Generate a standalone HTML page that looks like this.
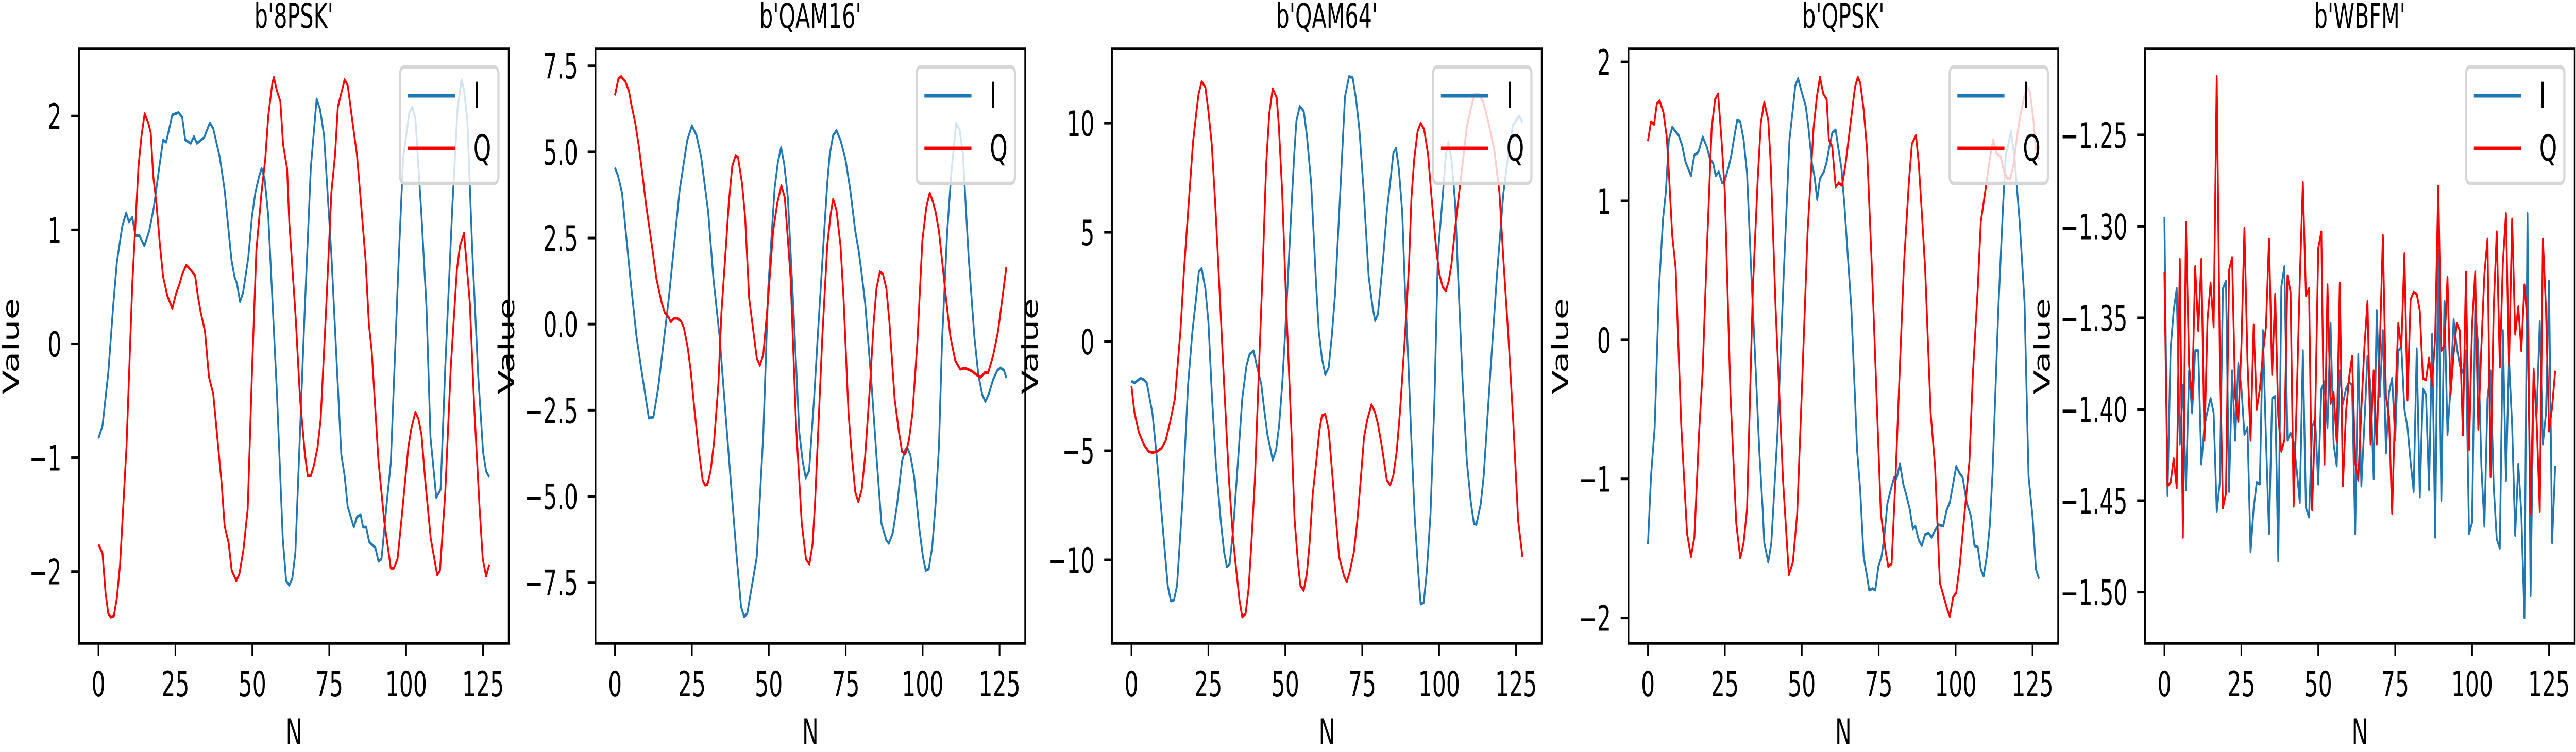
<!DOCTYPE html>
<html><head><meta charset="utf-8"><title>IQ signal samples</title>
<style>
html,body{margin:0;padding:0;background:#fff;width:100%;height:100%;overflow:hidden;}
svg{display:block;font-family:"DejaVu Sans","Liberation Sans",sans-serif;overflow:hidden;width:100vw;height:100vh;}
</style></head>
<body>
<svg id="fig" xmlns="http://www.w3.org/2000/svg" viewBox="0 0 7995 1460" preserveAspectRatio="none"></svg>
<script>
// ---------- data ----------
const xTicks = [0, 25, 50, 75, 100, 125];
const titles = ["b'8PSK'", "b'QAM16'", "b'QAM64'", "b'QPSK'", "b'WBFM'"];
const legendLabels = ["I", "Q"];

const yTicks8psk = [-2, -1, 0, 1, 2];
const yTickLabels8psk = ["\u22122", "\u22121", "0", "1", "2"];
const yTicksQam16 = [-7.5, -5, -2.5, 0, 2.5, 5, 7.5];
const yTickLabelsQam16 = ["\u22127.5", "\u22125.0", "\u22122.5", "0.0", "2.5", "5.0", "7.5"];
const yTicksQam64 = [-10, -5, 0, 5, 10];
const yTickLabelsQam64 = ["\u221210", "\u22125", "0", "5", "10"];
const yTicksQpsk = [-2, -1, 0, 1, 2];
const yTickLabelsQpsk = ["\u22122", "\u22121", "0", "1", "2"];
const yTicksWbfm = [-1.50, -1.45, -1.40, -1.35, -1.30, -1.25];
const yTickLabelsWbfm = ["\u22121.50", "\u22121.45", "\u22121.40", "\u22121.35", "\u22121.30", "\u22121.25"];

const yRange8psk = [-2.63, 2.589];
const yRangeQam16 = [-9.27, 7.99];
const yRangeQam64 = [-13.82, 13.40];
const yRangeQpsk = [-2.183, 2.093];
const yRangeWbfm = [-1.528, -1.203];

const psk8I = [[0,-0.83],[1.3,-0.72],[3.2,-0.25],[4.8,0.34],[6,0.72],[7.7,1.03],[9,1.15],[9.9,1.07],[11,1.11],[12,0.95],[13.3,0.95],[14.9,0.86],[16.5,0.99],[18,1.2],[19.7,1.54],[21,1.79],[22,1.77],[24,2.01],[26,2.03],[27.2,1.99],[28.2,1.79],[30,1.76],[31,1.82],[32,1.76],[34.3,1.81],[36.2,1.94],[37.3,1.89],[39.4,1.64],[41,1.35],[43.2,0.74],[44.2,0.59],[45,0.53],[46,0.37],[47,0.45],[48.7,0.76],[49.9,1.12],[51,1.33],[52.2,1.47],[53,1.54],[54,1.45],[55.2,1.12],[58,-0.44],[59.9,-1.71],[61,-2.08],[62,-2.12],[63,-2.06],[64,-1.83],[67,0.27],[69,1.54],[70.9,2.15],[72,2.06],[73.3,1.83],[75.7,0.78],[78.9,-0.97],[80,-1.16],[81,-1.43],[83,-1.61],[84,-1.52],[85.2,-1.5],[86,-1.61],[87,-1.61],[88,-1.74],[90,-1.79],[91,-1.91],[92,-1.89],[93.8,-1.37],[95,-1.05],[97.5,0.69],[99,1.62],[101,2.03],[102,2.08],[103,1.98],[105,1.12],[106.6,0.32],[107.9,-0.82],[109.8,-1.35],[111.2,-1.28],[112.7,-0.21],[115,1.2],[116.7,2.06],[118,2.32],[118.8,2.23],[119.9,1.96],[121.5,0.82],[123.4,-0.27],[125,-0.95],[126,-1.12],[127,-1.17]];
const psk8Q = [[0,-1.76],[1.3,-1.84],[2.3,-2.19],[3.2,-2.37],[4,-2.40],[5,-2.39],[6,-2.23],[7,-1.94],[9.1,-0.91],[11,0.53],[13,1.56],[14,1.83],[15,2.02],[16.2,1.94],[17,1.85],[17.8,1.47],[18.8,1.24],[20,0.86],[21,0.59],[22.4,0.42],[24,0.31],[25.2,0.44],[26.4,0.53],[27.2,0.61],[28.5,0.69],[29.3,0.67],[31.4,0.60],[32.3,0.42],[33.2,0.28],[34.6,0.11],[35.9,-0.29],[37.3,-0.44],[40,-1.22],[41,-1.6],[42.3,-1.75],[43.3,-1.99],[44.8,-2.08],[45.8,-2.02],[47.1,-1.81],[48.5,-1.45],[49.9,-0.25],[51.3,0.82],[53,1.33],[54.2,1.62],[55.2,2.0],[56.5,2.29],[57,2.34],[58,2.22],[59.1,2.13],[60,1.75],[61.3,1.54],[62,1.07],[64.1,0.23],[65.5,-0.48],[67.1,-0.97],[68,-1.16],[69,-1.16],[70,-1.07],[71.2,-0.91],[72.2,-0.67],[74,0.32],[75.7,1.33],[76.9,1.66],[77.8,2.08],[79,2.21],[80,2.32],[81,2.27],[82.6,1.94],[84,1.66],[85.3,1.24],[86.8,0.74],[87.9,0.17],[88.8,-0.06],[91,-1.03],[92.9,-1.56],[94.3,-1.83],[95,-1.97],[96,-1.97],[97.2,-1.89],[98.5,-1.54],[100.7,-0.91],[101.7,-0.74],[103,-0.60],[104,-0.66],[105,-0.8],[106.2,-1.2],[107,-1.43],[108,-1.71],[110.1,-2.03],[111,-1.99],[112.7,-1.31],[114.5,-0.21],[116.5,0.65],[117.5,0.86],[118.8,0.97],[120.7,0.36],[122.2,-0.59],[123.8,-1.41],[124.9,-1.89],[126,-2.04],[127,-1.94]];

const qam16I = [[0,4.54],[1,4.3],[2.3,3.81],[5,1.31],[7,-0.36],[8.5,-1.27],[11,-2.73],[12.5,-2.7],[14,-1.89],[17.5,0.75],[21,3.88],[23.5,5.34],[25,5.76],[26.5,5.48],[28,4.86],[30.3,3.26],[32,1.31],[34,-0.36],[37,-3.84],[39.5,-6.69],[41,-8.22],[42,-8.5],[43,-8.4],[46.1,-6.76],[48.2,-3.21],[49.8,1.03],[51.9,3.95],[53,4.72],[54,5.13],[55,4.65],[56.2,3.67],[58.3,-0.08],[59.9,-3.14],[61,-3.98],[62,-4.47],[63.1,-4.26],[64.7,-2.17],[65.8,-0.5],[68,2.7],[69,4.09],[69.8,4.93],[70.9,5.48],[72,5.62],[73.3,5.34],[74.9,4.79],[76.5,3.88],[78.1,2.7],[79.2,2.14],[80.2,1.45],[81.3,0.61],[83.4,-1.75],[85,-3.84],[86.6,-5.79],[88.2,-6.28],[89,-6.37],[90.3,-6.07],[91.7,-5.23],[93.3,-3.98],[94.4,-3.63],[95.2,-3.63],[96,-3.8],[97.2,-4.4],[98.9,-5.93],[100.1,-6.76],[101,-7.15],[102,-7.11],[103.1,-6.48],[104.2,-5.23],[105.3,-3.56],[106.3,-0.5],[108,2.7],[109.3,4.37],[110.9,5.83],[112,5.65],[113.1,4.93],[114.9,2.0],[116.8,-0.36],[118.1,-1.47],[119.4,-2.06],[120.4,-2.25],[121.5,-2.03],[122.9,-1.61],[124.3,-1.34],[125.3,-1.27],[126.4,-1.34],[127.2,-1.56]];
const qam16Q = [[0,6.64],[1.1,7.12],[2,7.19],[3.4,7.04],[4.5,6.78],[5.3,6.39],[6.6,5.83],[7.7,5.2],[8.9,4.37],[10.1,3.46],[12,2.28],[13.5,1.31],[15.2,0.61],[16.2,0.33],[17.5,0.19],[18.1,0.06],[19.2,0.17],[20.2,0.17],[21.5,0.08],[22.4,-0.11],[23.7,-0.71],[24.7,-1.41],[25.8,-2.45],[27.1,-3.56],[28.5,-4.54],[29.3,-4.68],[30.1,-4.65],[31.1,-4.26],[32.2,-3.42],[33.6,-1.75],[34.6,0.33],[36.2,2.42],[37,3.53],[38.1,4.58],[39.2,4.9],[40,4.84],[41.3,4.09],[42.3,3.12],[43.6,0.75],[45,-0.22],[46.1,-0.99],[47.1,-1.2],[48.2,-0.89],[49.8,0.75],[51.4,2.7],[52.8,3.53],[54.1,4.02],[55.2,3.67],[56,2.7],[57.1,1.31],[58.9,-3.01],[60.7,-5.79],[62.1,-6.83],[63.2,-6.97],[64.2,-6.41],[65,-5.23],[66.3,-2.59],[67.4,-0.36],[69,2.28],[70.1,3.19],[70.9,3.63],[72,3.3],[73.3,2.28],[74.3,0.75],[75.9,-2.59],[77,-3.84],[78.1,-4.88],[79.1,-5.16],[80.2,-4.81],[81.3,-3.84],[82.9,-1.75],[84.1,0.06],[85,1.03],[86.1,1.52],[87.1,1.45],[88.2,1.03],[89.2,0.06],[90.9,-2.17],[92.3,-3.14],[93.3,-3.7],[94.4,-3.77],[95.5,-3.39],[96.7,-2.59],[98.3,-0.5],[99.9,2.42],[101.2,3.4],[102.3,3.81],[103.3,3.56],[104.2,3.26],[105.3,2.7],[106.3,1.86],[107.6,0.75],[109,-0.36],[110.6,-1.06],[112.2,-1.31],[113.8,-1.28],[115.9,-1.36],[117.5,-1.47],[118.9,-1.54],[120.2,-1.41],[121.3,-1.41],[122.9,-0.92],[124.5,-0.22],[126.1,0.89],[127.2,1.66]];

const qam64I = [[0,-1.81],[1,-1.9],[2.9,-1.68],[4,-1.74],[5,-1.9],[6.8,-3.28],[8.2,-5.26],[9.8,-7.89],[11.8,-11.18],[12.8,-11.88],[13.8,-11.84],[14.8,-11.18],[16.6,-7.23],[18.4,-1.96],[19.8,0.45],[21.1,2.1],[21.9,3.2],[22.8,3.35],[24,2.43],[25,0.89],[26.2,-2.62],[27.5,-5.7],[29.1,-8.33],[30.1,-9.65],[31,-10.31],[31.9,-10.2],[33.1,-8.55],[34.4,-5.92],[36,-2.62],[37.4,-1.09],[38.4,-0.58],[39.7,-0.43],[40.7,-1.09],[42.2,-1.96],[43.1,-3.06],[44.2,-4.27],[45.3,-5.0],[45.9,-5.43],[47,-4.97],[48,-3.83],[49,-1.96],[49.9,0.23],[51,3.3],[52,6.16],[52.9,8.57],[53.6,10.1],[54.7,10.77],[56,10.55],[57,9.45],[58.4,7.26],[60,2.65],[60.9,0.45],[61.9,-0.76],[63,-1.52],[64.1,-1.19],[65.1,0.23],[66.2,2.21],[68,7.26],[69.4,11.21],[70.7,12.13],[71.9,12.09],[73,11.1],[74.1,9.67],[75.5,6.82],[77.1,2.98],[78.4,1.55],[79.2,0.96],[80.1,1.26],[80.9,2.43],[81.9,3.96],[83,5.94],[84.3,7.54],[85.1,8.62],[86,8.86],[86.9,7.92],[88,5.94],[88.9,2.43],[89.96,-0.87],[91,-4.6],[92.1,-8.11],[93.2,-10.52],[94,-12.02],[95,-11.95],[96,-10.52],[97.2,-7.89],[98.5,-2.62],[99.6,3.96],[101,6.38],[102.2,8.57],[103,9.12],[104,8.35],[105.2,6.38],[106.2,2.87],[107.6,-1.74],[109,-5.48],[110.3,-7.35],[111.3,-8.33],[112.1,-8.38],[113.5,-7.45],[114.5,-6.14],[116.7,-1.31],[118.8,3.08],[120.9,6.82],[122.5,8.57],[123.9,9.89],[125,10.11],[126,10.33],[127.1,10.04]];
const qam64Q = [[0,-2.03],[1,-3.28],[2.4,-4.16],[4,-4.71],[5.6,-5.04],[6.8,-5.08],[8.2,-5.04],[9.8,-4.88],[11.1,-4.55],[12.5,-3.72],[14.1,-2.62],[15.9,0.45],[17.1,3.3],[18.4,5.94],[20,9.12],[21.1,10.5],[21.8,11.32],[22.8,11.91],[24,11.65],[25,10.55],[26.1,9.01],[27.2,6.38],[28,4.18],[30.1,-1.96],[31.7,-6.35],[33,-8.99],[34.1,-10.52],[35.1,-11.84],[36,-12.61],[37.1,-12.46],[38.1,-11.29],[39,-9.21],[40.1,-6.35],[41.3,-1.74],[42.7,3.52],[43.8,8.13],[44.8,10.44],[45.9,11.58],[47.2,11.16],[47.9,9.89],[49,6.82],[50.4,1.33],[52,-4.16],[53,-8.11],[54.1,-10.09],[54.9,-11.18],[56,-11.4],[57,-10.63],[57.9,-9.21],[58.9,-7.01],[60,-5.59],[61.1,-4.06],[61.9,-3.4],[63,-3.33],[64.1,-4.06],[64.8,-5.26],[66.2,-7.67],[67.5,-9.87],[69.1,-10.74],[70,-11.0],[70.9,-10.57],[72.3,-9.65],[73.4,-8.22],[74.5,-6.35],[75.6,-4.38],[76.6,-3.61],[78,-2.89],[79.1,-3.22],[80.1,-3.77],[81.4,-4.82],[83,-6.35],[84.1,-6.57],[85.1,-6.14],[86.2,-5.04],[87.3,-3.17],[88.9,0.23],[90.2,3.52],[91,6.6],[91.9,8.35],[93,9.62],[94,10.0],[95.1,9.73],[96.4,8.57],[97.4,6.82],[99.1,4.18],[100.1,3.08],[101.2,2.48],[102.2,2.32],[103.1,2.76],[104,3.52],[105.1,5.06],[106.5,6.82],[107.8,8.35],[109,9.84],[110.3,10.66],[111.5,11.32],[112.9,11.32],[114.3,10.99],[115.9,10.11],[117.9,8.79],[119.6,6.82],[120.9,3.74],[122.5,0.23],[124.1,-3.72],[125.7,-8.22],[127.1,-9.87]];

const qpskI = [[0,-1.47],[1,-0.98],[2.2,-0.63],[3.6,0.37],[4.9,0.87],[5.8,1.06],[6.8,1.44],[7.9,1.53],[8.9,1.5],[10,1.47],[11.1,1.4],[12.2,1.28],[14,1.18],[15.1,1.33],[16.4,1.35],[17.8,1.46],[19.1,1.39],[20.2,1.3],[21.2,1.27],[22,1.18],[23,1.21],[24.1,1.13],[24.9,1.14],[26.3,1.25],[27.1,1.33],[27.9,1.44],[29,1.58],[30,1.57],[31.1,1.44],[32.2,1.2],[33.8,0.37],[35.1,-0.25],[36.2,-0.80],[37.3,-1.22],[37.8,-1.46],[39.1,-1.6],[40.1,-1.46],[42.1,-0.67],[44.2,0.51],[46,1.44],[47.1,1.66],[47.9,1.83],[48.8,1.88],[50,1.78],[51.3,1.68],[52.2,1.52],[53.3,1.27],[54.1,1.18],[55,1.01],[55.9,1.16],[57.2,1.21],[58.1,1.28],[58.8,1.37],[59.9,1.49],[61,1.51],[61.8,1.39],[62.9,1.23],[63.9,0.96],[65,0.59],[66.1,0.23],[68,-0.8],[69,-1.08],[70.1,-1.56],[71.2,-1.7],[71.9,-1.8],[73,-1.79],[73.9,-1.8],[74.9,-1.63],[75.9,-1.56],[76.8,-1.42],[77.8,-1.18],[78.9,-1.08],[80,-0.99],[80.8,-1.0],[81.9,-0.89],[83,-1.04],[83.9,-1.11],[85.1,-1.22],[86.1,-1.36],[86.9,-1.34],[88,-1.44],[89,-1.48],[90.1,-1.40],[91.2,-1.39],[92.2,-1.42],[93.3,-1.37],[94.4,-1.33],[96,-1.34],[97,-1.23],[98.1,-1.17],[99.4,-1.01],[100.2,-0.91],[101.3,-0.96],[102.3,-0.99],[103.6,-1.17],[105,-1.27],[106.1,-1.48],[107.2,-1.49],[108.2,-1.65],[109.1,-1.7],[110.1,-1.56],[111.1,-1.34],[112,-0.96],[113.9,0.23],[115.4,0.96],[116.3,1.33],[117.1,1.4],[118,1.5],[119.2,1.3],[120.8,0.85],[122.4,0.27],[123.7,-0.98],[125,-1.27],[126.1,-1.65],[127.1,-1.72]];
const qpskQ = [[0,1.43],[1,1.57],[2,1.55],[2.9,1.7],[3.8,1.72],[5,1.64],[6.1,1.46],[6.8,1.2],[7.9,0.75],[9,0.52],[10.8,-0.61],[12.7,-1.39],[14,-1.56],[15.1,-1.42],[16.6,-0.67],[17.8,-0.22],[19.1,0.61],[20.7,1.52],[21.8,1.73],[22.8,1.77],[23.9,1.44],[25,1.06],[26.8,-0.39],[28.7,-1.32],[30,-1.57],[31.1,-1.46],[32.2,-1.22],[34.1,0.37],[35.7,1.16],[36.7,1.56],[37.8,1.71],[39.1,1.58],[39.9,1.27],[41.5,0.23],[43.9,-1.01],[45.8,-1.69],[47.1,-1.6],[48.5,-1.25],[50.1,-0.32],[51.9,0.78],[53.8,1.52],[54.9,1.75],[55.9,1.89],[57,1.77],[58.1,1.73],[58.8,1.44],[59.9,1.39],[61,1.1],[62,1.13],[63.1,1.11],[64.2,1.26],[65.2,1.44],[66.3,1.64],[67.3,1.82],[68.2,1.89],[69,1.85],[70.1,1.66],[71.2,1.37],[73,0.4],[74.4,-0.46],[75.7,-1.25],[77.3,-1.53],[78.1,-1.63],[79.2,-1.61],[80.5,-0.98],[81.9,-0.18],[83.2,0.54],[84.8,1.13],[85.8,1.41],[87.1,1.47],[88,1.27],[89,0.92],[90.1,0.51],[91.9,-0.53],[93.3,-0.91],[94.9,-1.75],[96.3,-1.86],[97.3,-1.94],[98.1,-1.99],[99.2,-1.85],[100.2,-1.82],[101.3,-1.63],[102.9,-1.25],[104.5,-0.87],[105.6,-0.25],[107.2,0.37],[108.2,0.85],[109.9,1.11],[111.1,1.3],[112.2,1.44],[113.3,1.34],[114.6,1.32],[115.7,1.21],[116.8,1.16],[117.8,1.16],[118.9,1.27],[120,1.47],[121,1.61],[122.1,1.73],[123.2,1.82],[124.2,1.78],[125.3,1.58],[126.1,1.37],[127.1,1.3]];

const wbfmI = [-1.295,-1.447,-1.367,-1.346,-1.334,-1.419,-1.387,-1.444,-1.379,-1.402,-1.368,-1.368,-1.43,-1.409,-1.401,-1.394,-1.402,-1.456,-1.44,-1.334,-1.33,-1.445,-1.379,-1.417,-1.375,-1.388,-1.414,-1.41,-1.478,-1.454,-1.44,-1.441,-1.357,-1.416,-1.468,-1.394,-1.393,-1.483,-1.333,-1.322,-1.417,-1.413,-1.418,-1.433,-1.451,-1.368,-1.454,-1.459,-1.41,-1.405,-1.441,-1.389,-1.385,-1.41,-1.353,-1.419,-1.431,-1.379,-1.397,-1.389,-1.385,-1.387,-1.468,-1.37,-1.442,-1.408,-1.371,-1.387,-1.438,-1.346,-1.393,-1.357,-1.424,-1.391,-1.383,-1.417,-1.368,-1.366,-1.4,-1.41,-1.429,-1.445,-1.367,-1.448,-1.389,-1.392,-1.444,-1.359,-1.47,-1.313,-1.45,-1.341,-1.414,-1.388,-1.351,-1.366,-1.376,-1.38,-1.368,-1.468,-1.462,-1.345,-1.366,-1.431,-1.464,-1.394,-1.379,-1.442,-1.471,-1.476,-1.357,-1.439,-1.373,-1.409,-1.469,-1.43,-1.457,-1.514,-1.293,-1.502,-1.383,-1.402,-1.352,-1.419,-1.402,-1.33,-1.473,-1.431];
const wbfmQ = [-1.325,-1.442,-1.44,-1.427,-1.443,-1.318,-1.47,-1.298,-1.376,-1.394,-1.322,-1.357,-1.318,-1.417,-1.351,-1.331,-1.355,-1.218,-1.37,-1.454,-1.446,-1.324,-1.317,-1.393,-1.407,-1.366,-1.301,-1.374,-1.417,-1.354,-1.4,-1.389,-1.37,-1.355,-1.307,-1.381,-1.337,-1.404,-1.423,-1.417,-1.327,-1.336,-1.453,-1.395,-1.329,-1.276,-1.338,-1.334,-1.455,-1.405,-1.312,-1.303,-1.43,-1.332,-1.397,-1.391,-1.418,-1.331,-1.442,-1.402,-1.383,-1.371,-1.429,-1.439,-1.4,-1.366,-1.341,-1.419,-1.379,-1.419,-1.366,-1.305,-1.393,-1.404,-1.457,-1.397,-1.353,-1.366,-1.315,-1.395,-1.34,-1.336,-1.337,-1.346,-1.383,-1.384,-1.372,-1.387,-1.36,-1.278,-1.368,-1.365,-1.328,-1.392,-1.37,-1.353,-1.357,-1.414,-1.325,-1.422,-1.354,-1.325,-1.411,-1.366,-1.326,-1.307,-1.437,-1.345,-1.303,-1.377,-1.32,-1.293,-1.376,-1.296,-1.359,-1.344,-1.368,-1.332,-1.353,-1.457,-1.378,-1.408,-1.456,-1.307,-1.345,-1.412,-1.399,-1.379];

// ---------- rendering ----------
const NS = "http://www.w3.org/2000/svg";
const svg = document.getElementById("fig");
const AX_W = 1334, AX_TOP = 95, AX_BOT = 1249, PANEL_STEP = 1603, FIRST_LEFT = 245;
const X_MIN = -6.35, X_MAX = 133.35;
const FS = 68;
const BLUE = "#1f77b4", RED = "#ff0000";

function mk(tag, attrs, parent) {
  const e = document.createElementNS(NS, tag);
  for (const k in attrs) e.setAttribute(k, attrs[k]);
  (parent || svg).appendChild(e);
  return e;
}
function labelWidth(s) {
  let w = 0;
  for (const c of s) w += (c === "\u2212") ? 0.838 : (c === ".") ? 0.318 : 0.636;
  return w * FS;
}
function toPairs(vals) { return vals.map((v, i) => [i, v]); }

const panels = [
  {key: "8psk", title: titles[0], yr: yRange8psk, yt: yTicks8psk, yl: yTickLabels8psk, I: psk8I, Q: psk8Q},
  {key: "qam16", title: titles[1], yr: yRangeQam16, yt: yTicksQam16, yl: yTickLabelsQam16, I: qam16I, Q: qam16Q},
  {key: "qam64", title: titles[2], yr: yRangeQam64, yt: yTicksQam64, yl: yTickLabelsQam64, I: qam64I, Q: qam64Q},
  {key: "qpsk", title: titles[3], yr: yRangeQpsk, yt: yTicksQpsk, yl: yTickLabelsQpsk, I: qpskI, Q: qpskQ},
  {key: "wbfm", title: titles[4], yr: yRangeWbfm, yt: yTicksWbfm, yl: yTickLabelsWbfm, I: toPairs(wbfmI), Q: toPairs(wbfmQ)}
];

panels.forEach((p, pi) => {
  const L = FIRST_LEFT + pi * PANEL_STEP, R = L + AX_W;
  const xs = n => L + (n - X_MIN) / (X_MAX - X_MIN) * AX_W;
  const ys = v => AX_BOT - (v - p.yr[0]) / (p.yr[1] - p.yr[0]) * (AX_BOT - AX_TOP);

  const g = mk("g", {});
  
  

  const clipId = "clip" + pi;
  const cp = mk("clipPath", {id: clipId}, g);
  mk("rect", {x: L, y: AX_TOP, width: AX_W, height: AX_BOT - AX_TOP}, cp);

  [["I", p.I, BLUE], ["Q", p.Q, RED]].forEach(([nm, data, col]) => {
    const d = data.map((pt, i) => (i ? "L" : "M") + xs(pt[0]).toFixed(1) + "," + ys(pt[1]).toFixed(1)).join("");
    const path = mk("path", {d: d, fill: "none", stroke: col, "stroke-width": 5.5, "stroke-linejoin": "round", "clip-path": "url(#" + clipId + ")"}, g);
    
    
  });

  const frame = mk("rect", {x: L, y: AX_TOP, width: AX_W, height: AX_BOT - AX_TOP, fill: "none", stroke: "#000", "stroke-width": 5.5}, g);
  
  

  xTicks.forEach(t => {
    const x = xs(t);
    const tk = mk("line", {x1: x, x2: x, y1: AX_BOT, y2: AX_BOT + 24, stroke: "#000", "stroke-width": 5}, g);
    
    
    const tx = mk("text", {x: x, y: 1352, "font-size": FS, "text-anchor": "middle", fill: "#000"}, g);
    tx.textContent = String(t);
    
    
  });

  let maxW = 0;
  p.yt.forEach((t, i) => {
    const y = ys(t);
    const tk = mk("line", {x1: L - 24, x2: L, y1: y, y2: y, stroke: "#000", "stroke-width": 5}, g);
    
    
    const tx = mk("text", {x: L - 54, y: y + 25, "font-size": FS, "text-anchor": "end", fill: "#000"}, g);
    tx.textContent = p.yl[i];
    
    
    maxW = Math.max(maxW, labelWidth(p.yl[i]));
  });

  const xl = mk("text", {x: L + AX_W / 2, y: 1444, "font-size": FS, "text-anchor": "middle", fill: "#000"}, g);
  xl.textContent = "N";
  
  
  const yx = L - 54 - maxW - 33, yc = (AX_TOP + AX_BOT) / 2;
  const yl = mk("text", {x: yx, y: yc, "font-size": FS, "text-anchor": "middle", fill: "#000", transform: "rotate(-90 " + yx + " " + yc + ")"}, g);
  yl.textContent = "Value";
  
  

  const ti = mk("text", {x: L + AX_W / 2, y: 54, "font-size": 66, "text-anchor": "middle", fill: "#000"}, g);
  ti.textContent = p.title;
  
  

  const lg = mk("g", {}, g);
  
  
  mk("rect", {x: R - 337, y: 130, width: 305, height: 226, rx: 12, ry: 12, fill: "#fff", "fill-opacity": 0.8, stroke: "#d6d6d6", "stroke-width": 6.5}, lg);
  [[BLUE, legendLabels[0], 186], [RED, legendLabels[1], 288]].forEach(([col, lab, ly]) => {
    const e = mk("g", {}, lg);
    
    
    mk("line", {x1: R - 313, x2: R - 167, y1: ly, y2: ly, stroke: col, "stroke-width": 7}, e);
    const t = mk("text", {x: R - 110, y: ly + 24, "font-size": 70, fill: "#000"}, e);
    t.textContent = lab;
  });
});
</script>
</body></html>
